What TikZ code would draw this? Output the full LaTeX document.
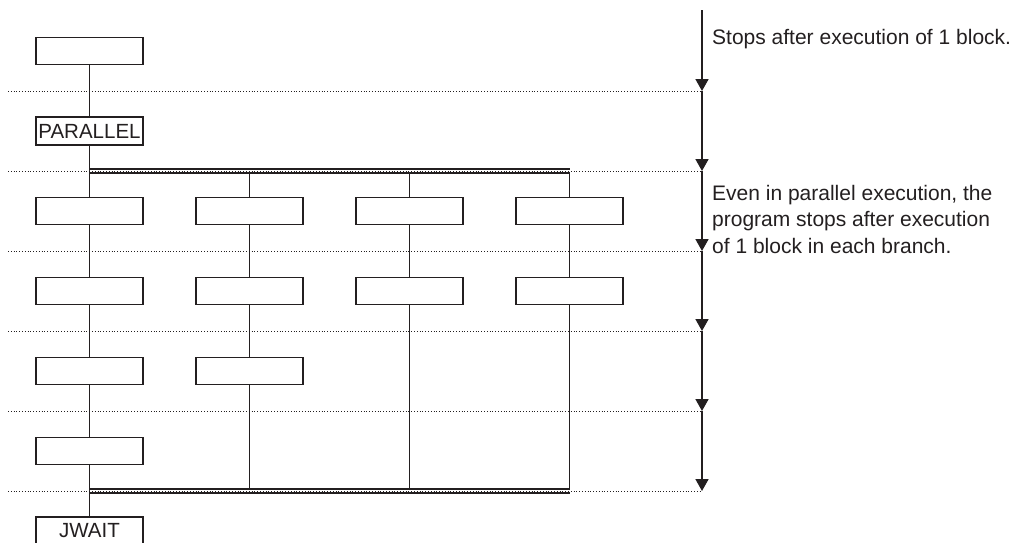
\documentclass[tikz,border=0pt]{standalone}
\usepackage{fontspec}
\setmainfont{Liberation Sans}
\usetikzlibrary{positioning,arrows.meta}
\definecolor{ink}{RGB}{35,31,32}
\tikzset{
  wire/.style  = {line width=1.6pt, draw=ink},
  blk/.style   = {draw=ink, line width=1.6pt, fill=white, minimum width=107pt,
                  minimum height=27pt, inner sep=1pt,
                  font=\fontsize{20.5}{24}\selectfont, text=ink},
  pbar/.style  = {draw=ink, line width=2.2pt, double=white, double distance=2pt},
  guide/.style = {draw=ink, line width=0.9pt, dash pattern=on 0.9pt off 1.9pt},
  flow/.style  = {draw=ink, line width=1.7pt,
                  -{Triangle[width=13pt,length=12pt]}},
  note/.style  = {font=\fontsize{21}{26.5}\selectfont, text=ink, inner sep=0pt,
                  align=left, anchor=west},
}
\begin{document}
\begin{tikzpicture}[x=1pt,y=-1pt]
  \useasboundingbox (0,0) rectangle (1018,542);
  % blocks
  \node[blk] (top) at (89.5,51) {};
  \node[blk, minimum height=28pt] (par) at (89.5,131) {PARALLEL};
  \node[blk] (b11) at (89.5,211) {};
  \node[blk] (b12) at (249.5,211) {};
  \node[blk] (b13) at (409.5,211) {};
  \node[blk] (b14) at (569.5,211) {};
  \node[blk] (b21) at (89.5,291) {};
  \node[blk] (b22) at (249.5,291) {};
  \node[blk] (b23) at (409.5,291) {};
  \node[blk] (b24) at (569.5,291) {};
  \node[blk] (b31) at (89.5,371) {};
  \node[blk] (b32) at (249.5,371) {};
  \node[blk] (b41) at (89.5,451) {};
  \node[blk, minimum height=28pt] (jw) at (89.5,531) {JWAIT};
  % branch points on the bars
  \foreach \c/\x in {1/89.5,2/249.5,3/409.5,4/569.5}{
    \coordinate (u\c) at (\x,171);
    \coordinate (d\c) at (\x,491);
  }
  % wires
  \draw[wire] (top) -- (par);
  \draw[wire] (par) -- (u1);
  \draw[wire] (u1) -- (b11);
  \draw[wire] (u2) -- (b12);
  \draw[wire] (u3) -- (b13);
  \draw[wire] (u4) -- (b14);
  \draw[wire] (b11) -- (b21);
  \draw[wire] (b12) -- (b22);
  \draw[wire] (b13) -- (b23);
  \draw[wire] (b14) -- (b24);
  \draw[wire] (b21) -- (b31);
  \draw[wire] (b22) -- (b32);
  \draw[wire] (b31) -- (b41);
  \draw[wire] (b41) -- (d1);
  \draw[wire] (b32) -- (d2);
  \draw[wire] (b23) -- (d3);
  \draw[wire] (b24) -- (d4);
  \draw[wire] (d1) -- (jw);
  % parallel bars
  \draw[pbar] (u1) -- (u4);
  \draw[pbar] (d1) -- (d4);
  % step guides and arrows
  \coordinate (g0) at (702,10);
  \foreach \y [count=\i] in {91,171,251,331,411,491}{
    \coordinate (g\i) at (702,\y);
    \draw[guide] (8,\y) -- (g\i);
  }
  \foreach \i [count=\j from 0] in {1,...,6}{
    \draw[flow] (g\j) -- (g\i);
  }
  % notes
  \node[note] (n1) at (712,39) {Stops after execution of 1 block.};
  \node[note] (n2) at (712,219) {Even in parallel execution, the\\
    program stops after execution\\of 1 block in each branch.};
\end{tikzpicture}
\end{document}
